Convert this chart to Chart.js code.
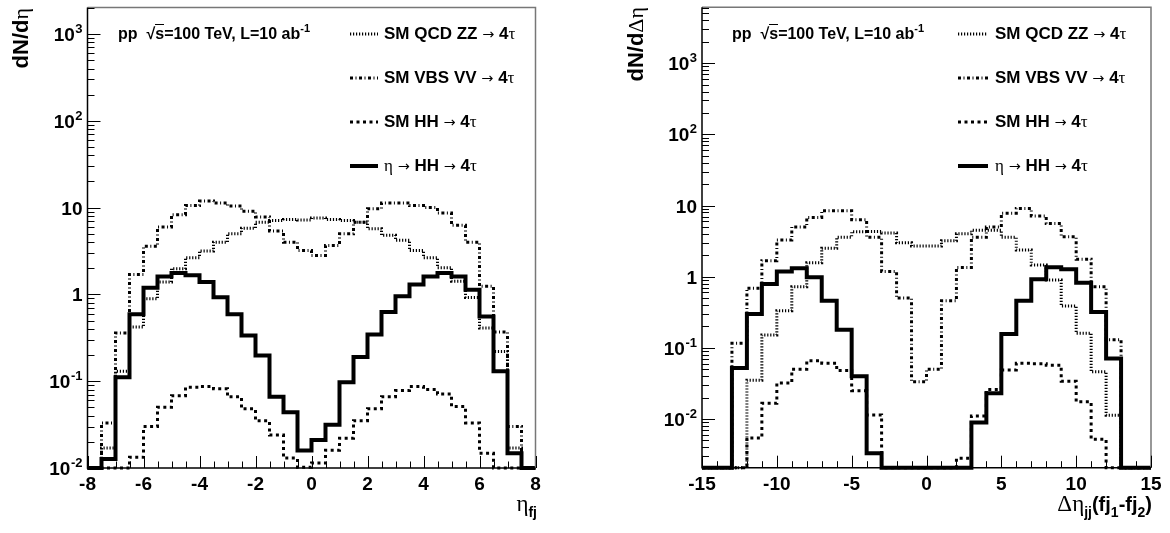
<!DOCTYPE html>
<html>
<head>
<meta charset="utf-8">
<title>eta -> HH -> 4 tau, fat jet distributions</title>
<script src="https://cdn.jsdelivr.net/npm/chart.js@4.4.1/dist/chart.umd.min.js"></script>
<style>
  html, body { margin: 0; padding: 0; background: #fff; }
  #page { position: relative; width: 1170px; height: 533px; overflow: hidden;
          font-family: "Liberation Sans", Arial, Helvetica, sans-serif; color: #000; }
  canvas { position: absolute; top: 0; }
  .t { position: absolute; white-space: nowrap; font-weight: bold; }
  .g { font-family: "Liberation Serif", "DejaVu Serif", serif; font-weight: normal; }
  .ar { font-family: "DejaVu Sans", sans-serif; font-weight: normal; font-size: 0.85em; }
  .lg { font-size: 17px; line-height: 20px; }
  .note { font-size: 16px; line-height: 18px; }
  .ytitle { font-size: 22px; line-height: 24px; width: 200px; text-align: right;
            transform-origin: 0 0; transform: rotate(-90deg); }
  .xtitle { font-size: 20px; line-height: 24px; width: 300px; text-align: right; }
  .xtitle .g { font-size: 23px; }
  sub { font-size: 14px; vertical-align: -6px; line-height: 0; }
  sup { font-size: 11px; vertical-align: 7px; line-height: 0; }
  .rt { border-top: 1.2px solid #000; }
</style>
</head>
<body>
<div id="page">
  <canvas id="etaChart" width="585" height="533" style="left:0"></canvas>
  <canvas id="detaChart" width="585" height="533" style="left:585px"></canvas>

  <div class="t note" style="left:118px;top:25px">pp &nbsp;√<span class="rt">s</span>=100 TeV, L=10 ab<sup>-1</sup></div>
  <div class="t note" style="left:732px;top:25px">pp &nbsp;√<span class="rt">s</span>=100 TeV, L=10 ab<sup>-1</sup></div>

  <div class="t lg" style="left:384px;top:24px">SM QCD ZZ <span class="ar">→</span> 4<span class="g">τ</span></div>
  <div class="t lg" style="left:384px;top:68px">SM VBS VV <span class="ar">→</span> 4<span class="g">τ</span></div>
  <div class="t lg" style="left:384px;top:112px">SM HH <span class="ar">→</span> 4<span class="g">τ</span></div>
  <div class="t lg" style="left:384px;top:156px"><span class="g">η</span> <span class="ar">→</span> HH <span class="ar">→</span> 4<span class="g">τ</span></div>

  <div class="t lg" style="left:995px;top:24px">SM QCD ZZ <span class="ar">→</span> 4<span class="g">τ</span></div>
  <div class="t lg" style="left:995px;top:68px">SM VBS VV <span class="ar">→</span> 4<span class="g">τ</span></div>
  <div class="t lg" style="left:995px;top:112px">SM HH <span class="ar">→</span> 4<span class="g">τ</span></div>
  <div class="t lg" style="left:995px;top:156px"><span class="g">η</span> <span class="ar">→</span> HH <span class="ar">→</span> 4<span class="g">τ</span></div>

  <div class="t ytitle" style="left:9px;top:208px">dN/d<span class="g">η</span></div>
  <div class="t ytitle" style="left:624px;top:207px">dN/d<span class="g">Δη</span></div>

  <div class="t xtitle" style="left:237px;top:492px"><span class="g">η</span><sub>fj</sub></div>
  <div class="t xtitle" style="left:852px;top:492px"><span class="g">Δη</span><sub>jj</sub>(fj<sub>1</sub>-fj<sub>2</sub>)</div>
</div>

<script>
// ---- left panel: eta of the fat jets, bins of 0.5 ----
const etaBinLow = [-8, -7.5, -7, -6.5, -6, -5.5, -5, -4.5, -4, -3.5, -3, -2.5, -2, -1.5, -1, -0.5,
                   0, 0.5, 1, 1.5, 2, 2.5, 3, 3.5, 4, 4.5, 5, 5.5, 6, 6.5, 7, 7.5];
const etaBinHigh = 8;
const etaQcdZZ = [0, 0.017, 0.13, 0.42, 0.89, 1.39, 1.98, 2.65, 3.16, 4.0, 5.0, 5.8, 6.8, 7.1, 7.3, 7.2,
                  7.6, 7.3, 7.1, 6.8, 5.7, 4.8, 4.2, 3.2, 2.65, 2.03, 1.42, 0.92, 0.41, 0.22, 0.017, 0];
const etaVbsVV = [0, 0.033, 0.36, 1.7, 3.58, 5.97, 8.3, 10.6, 11.9, 11.3, 10.4, 9.1, 7.8, 5.36, 4.0, 3.2,
                  2.8, 3.67, 5.0, 6.8, 9.7, 11.3, 11.3, 10.6, 10.0, 8.66, 6.25, 4.0, 1.24, 0.37, 0.03, 0];
const etaSmHH = [0, 0, 0, 0.0133, 0.03, 0.05, 0.068, 0.085, 0.087, 0.082, 0.066, 0.048, 0.035, 0.024, 0.013, 0.0102,
                 0.0114, 0.016, 0.022, 0.035, 0.048, 0.066, 0.078, 0.087, 0.08, 0.071, 0.051, 0.033, 0.0148, 0, 0, 0];
const etaSignal = [0, 0.0127, 0.111, 0.59, 1.19, 1.61, 1.76, 1.66, 1.39, 0.93, 0.59, 0.336, 0.198, 0.066, 0.044, 0.0159,
                   0.021, 0.0316, 0.097, 0.19, 0.345, 0.625, 0.95, 1.3, 1.61, 1.76, 1.61, 1.13, 0.557, 0.13, 0.0148, 0];
const etaTicks = [-8, -6, -4, -2, 0, 2, 4, 6, 8];

// ---- right panel: delta eta between the two fat jets, bins of 1 ----
const detaBinLow = [-15, -14, -13, -12, -11, -10, -9, -8, -7, -6, -5, -4, -3, -2, -1,
                    0, 1, 2, 3, 4, 5, 6, 7, 8, 9, 10, 11, 12, 13, 14];
const detaBinHigh = 15;
const detaQcdZZ = [0, 0, 0, 0.035, 0.152, 0.333, 0.72, 1.57, 2.5, 3.57, 4.28, 4.3, 4.1, 3.0, 2.7,
                   2.7, 3.2, 4.0, 4.5, 4.5, 3.57, 2.37, 1.46, 0.9, 0.387, 0.16, 0.046, 0.0113, 0, 0];
const detaVbsVV = [0, 0, 0.116, 0.69, 1.68, 3.27, 5.0, 6.8, 8.45, 8.45, 6.3, 3.57, 1.18, 0.5, 0.0335,
                   0.05, 0.46, 1.35, 3.57, 5.0, 7.8, 9.1, 7.1, 5.6, 3.65, 1.76, 0.72, 0.13, 0, 0];
const detaSmHH = [0, 0, 0, 0.0054, 0.0166, 0.032, 0.05, 0.066, 0.061, 0.048, 0.025, 0.0114, 0, 0, 0,
                  0, 0, 0.0028, 0.011, 0.026, 0.049, 0.061, 0.06, 0.057, 0.034, 0.0175, 0.0052, 0, 0, 0];
const detaSignal = [0, 0, 0.052, 0.3, 0.79, 1.18, 1.31, 0.98, 0.46, 0.18, 0.04, 0.0033, 0, 0, 0,
                    0, 0, 0, 0.0089, 0.023, 0.157, 0.46, 0.92, 1.36, 1.27, 0.82, 0.32, 0.071, 0, 0];
const detaTicks = [-15, -10, -5, 0, 5, 10, 15];

const seriesNames = ['SM QCD ZZ -> 4tau', 'SM VBS VV -> 4tau', 'SM HH -> 4tau', 'eta -> HH -> 4tau'];
const logDecades = [-2, -1, 0, 1, 2, 3];

// line styles, in the order of the legend
const lineStyles = [
    { borderDash: [1.2, 1.8], borderWidth: 3 },
    { borderDash: [3, 2.5, 1, 2.5], borderWidth: 3 },
    { borderDash: [3, 3.5], borderWidth: 3 },
    { borderDash: [], borderWidth: 4 }
];

// empty bins sit on the bottom of the frame, as ROOT draws them on a log axis
function histPoints(lows, high, vals, floor) {
    const pts = lows.map((x, i) => ({ x: x, y: Math.max(vals[i], floor) }));
    pts.push({ x: high, y: Math.max(vals[vals.length - 1], floor) });
    return pts;
}

function decadeLabel(ctx, e, xRight, yMid) {
    ctx.textAlign = 'right';
    ctx.textBaseline = 'alphabetic';
    if (e === 0 || e === 1) {
        ctx.font = 'bold 19px "Liberation Sans", Arial, sans-serif';
        ctx.fillText(e === 0 ? '1' : '10', xRight, yMid + 7);
        return;
    }
    ctx.font = 'bold 13px "Liberation Sans", Arial, sans-serif';
    const sup = String(e);
    const w = ctx.measureText(sup).width;
    ctx.textAlign = 'left';
    ctx.fillText(sup, xRight - w, yMid - 1);
    ctx.textAlign = 'right';
    ctx.font = 'bold 19px "Liberation Sans", Arial, sans-serif';
    ctx.fillText('10', xRight - w - 0.5, yMid + 7);
}

const rootAxes = {
    id: 'rootAxes',
    afterDatasetsDraw(chart, args, o) {
        const { ctx, chartArea: a, scales: { x, y } } = chart;
        ctx.save();
        ctx.setLineDash([]);
        // frame
        ctx.lineWidth = 1.5;
        ctx.strokeStyle = '#777';
        ctx.beginPath();
        ctx.moveTo(a.left, a.top); ctx.lineTo(a.right, a.top); ctx.lineTo(a.right, a.bottom);
        ctx.stroke();
        ctx.strokeStyle = '#000';
        ctx.beginPath();
        ctx.moveTo(a.left, a.top); ctx.lineTo(a.left, a.bottom); ctx.lineTo(a.right, a.bottom);
        ctx.stroke();

        // x ticks, pointing into the frame
        ctx.lineWidth = 1;
        ctx.beginPath();
        for (let v = x.min; v <= x.max + 1e-9; v += o.xMinor) {
            const px = Math.round(x.getPixelForValue(v)) + 0.5;
            const len = o.ticks.includes(v) ? 12 : 6.5;
            ctx.moveTo(px, a.bottom); ctx.lineTo(px, a.bottom - len);
        }
        // log y ticks
        const e0 = Math.floor(Math.log10(y.min)), e1 = Math.ceil(Math.log10(y.max));
        for (let e = e0; e <= e1; e++) {
            for (let m = 1; m <= 9; m++) {
                const v = m * Math.pow(10, e);
                if (v < y.min * 0.999 || v > y.max * 1.001) continue;
                const py = Math.round(y.getPixelForValue(v)) + 0.5;
                ctx.moveTo(a.left, py); ctx.lineTo(a.left + (m === 1 ? 13 : 7), py);
            }
        }
        ctx.stroke();

        // labels
        ctx.fillStyle = '#000';
        ctx.font = 'bold 19px "Liberation Sans", Arial, sans-serif';
        ctx.textAlign = 'center';
        ctx.textBaseline = 'alphabetic';
        o.ticks.forEach(v => ctx.fillText(String(v), x.getPixelForValue(v), a.bottom + 22));
        logDecades.forEach(e => decadeLabel(ctx, e, a.left - 5, y.getPixelForValue(Math.pow(10, e))));

        // legend line samples
        chart.data.datasets.forEach((ds, i) => {
            const ry = o.legendRows[i];
            ctx.lineWidth = ds.borderWidth;
            ctx.setLineDash(ds.borderDash);
            ctx.beginPath();
            ctx.moveTo(o.legendX[0], ry); ctx.lineTo(o.legendX[1], ry);
            ctx.stroke();
        });
        ctx.restore();
    }
};

function makeChart(id, lows, high, series, xMin, xMax, yMin, yMax, pad, axisOpts) {
    const datasets = series.map((vals, i) => Object.assign({
        label: seriesNames[i],
        data: histPoints(lows, high, vals, yMin),
        borderColor: '#000',
        backgroundColor: 'transparent',
        stepped: 'before',
        pointRadius: 0,
        fill: false,
        clip: 6
    }, lineStyles[i]));
    return new Chart(document.getElementById(id), {
        type: 'line',
        data: { datasets: datasets },
        options: {
            responsive: false,
            animation: false,
            devicePixelRatio: 1,
            layout: { padding: pad },
            scales: {
                x: { type: 'linear', min: xMin, max: xMax, display: false },
                y: { type: 'logarithmic', min: yMin, max: yMax, display: false }
            },
            plugins: { legend: { display: false }, tooltip: { enabled: false }, rootAxes: axisOpts }
        },
        plugins: [rootAxes]
    });
}

makeChart('etaChart', etaBinLow, etaBinHigh, [etaQcdZZ, etaVbsVV, etaSmHH, etaSignal],
    -8, 8, 0.01, 2020,
    { left: 87.5, right: 49.5, top: 7.5, bottom: 65 },
    { xMinor: 0.5, ticks: etaTicks, legendX: [350, 378], legendRows: [34, 78, 122, 166] });

makeChart('detaChart', detaBinLow, detaBinHigh, [detaQcdZZ, detaVbsVV, detaSmHH, detaSignal],
    -15, 15, 0.00207, 6100,
    { left: 117, right: 19, top: 7.3, bottom: 65.3 },
    { xMinor: 1, ticks: detaTicks, legendX: [373, 403], legendRows: [34, 78, 122, 166] });
</script>
</body>
</html>
